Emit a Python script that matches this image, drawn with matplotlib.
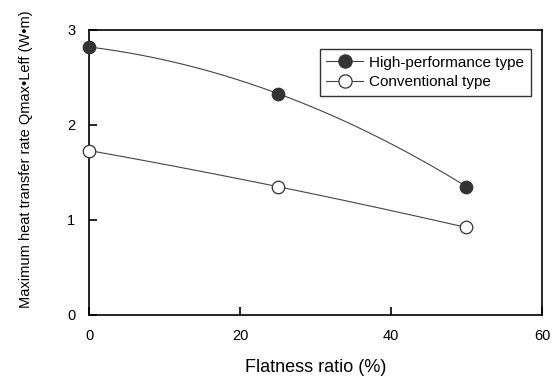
import numpy as np
import matplotlib
matplotlib.use('Agg')
import matplotlib.pyplot as plt

plt.rcParams['font.family'] = ['Liberation Sans', 'DejaVu Sans']

flatness = [0, 25, 50]
high_perf = [2.82, 2.33, 1.35]
conventional = [1.73, 1.35, 0.92]

fig = plt.figure(figsize=(5.57, 3.78), dpi=100)
ax = fig.add_axes([0.16, 0.167, 0.813, 0.754])

# smooth curve through the three measured points
xs = np.linspace(0, 50, 200)
for ys, fc, lab in [(high_perf, '#333333', 'High-performance type'),
                    (conventional, 'white', 'Conventional type')]:
    coef = np.polyfit(flatness, ys, 2)
    ax.plot(xs, np.polyval(coef, xs), color='#444444', lw=0.8)
    ax.plot(flatness, ys, 'o', ms=9, mfc=fc, mec='#333333', mew=0.9,
            clip_on=False, zorder=3)
    ax.plot([], [], '-o', color='#444444', lw=0.8, ms=9.5, mfc=fc,
            mec='#333333', mew=0.9, label=lab)

ax.set_xlim(0, 60)
ax.set_ylim(0, 3)
ax.set_xticks([0, 20, 40, 60])
ax.set_yticks([0, 1, 2, 3])
ax.tick_params(direction='in', length=6, width=1.2, labelsize=10.5, pad=10)
for s in ax.spines.values():
    s.set_linewidth(1.2)

ax.set_xlabel('Flatness ratio (%)', fontsize=13, labelpad=12)
ax.set_ylabel('Maximum heat transfer rate Qmax\u2022Leff (W\u2022m)', fontsize=10.5)
ax.yaxis.set_label_coords(-0.124, 0.545)

leg = ax.legend(loc='upper right', bbox_to_anchor=(0.976, 0.934), fontsize=11,
                frameon=True, fancybox=False, edgecolor='black', borderaxespad=0,
                handlelength=2.4, handletextpad=0.4, borderpad=0.45, labelspacing=0.35)
leg.get_frame().set_linewidth(1.0)

plt.savefig('out.png', dpi=100)
